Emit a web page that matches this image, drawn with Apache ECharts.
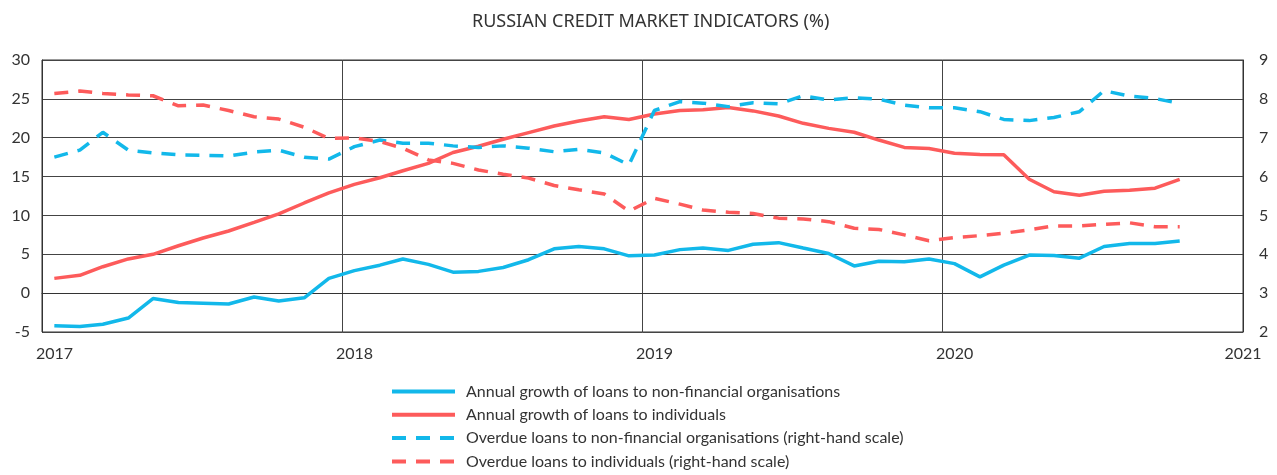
<!DOCTYPE html>
<html>
<head>
<meta charset="utf-8">
<script src="https://cdn.jsdelivr.net/npm/echarts@6/dist/echarts.min.js"></script>
<style>
  html, body { margin: 0; padding: 0; background: #fff; }
  #main { width: 1277px; height: 475px; }
</style>
</head>
<body>
<div id="main"></div>
<script>
// monthly observations, Jan 2017 .. Oct 2020
var months = [];
for (var y = 2017; y <= 2020; y++) {
    for (var m = 1; m <= 12; m++) {
        if (y == 2020 && m > 10) break;
        months.push(y + '-' + (m < 10 ? '0' + m : m));
    }
}

var growthCorp = [-4.2, -4.3, -4.0, -3.2, -0.7, -1.2, -1.3, -1.4, -0.5, -1.0, -0.6, 1.9,
                  2.9, 3.6, 4.4, 3.7, 2.7, 2.8, 3.3, 4.3, 5.7, 6.0, 5.7, 4.8,
                  4.9, 5.6, 5.8, 5.5, 6.3, 6.5, 5.8, 5.1, 3.5, 4.1, 4.05, 4.4,
                  3.8, 2.1, 3.6, 4.9, 4.85, 4.5, 6.0, 6.4, 6.4, 6.7];
var growthRetail = [1.9, 2.3, 3.4, 4.4, 5.0, 6.1, 7.1, 8.0, 9.1, 10.2, 11.6, 12.9,
                    14.0, 14.85, 15.75, 16.7, 18.1, 18.9, 19.8, 20.65, 21.5, 22.15, 22.7, 22.35,
                    23.05, 23.5, 23.6, 23.9, 23.45, 22.8, 21.85, 21.2, 20.7, 19.7, 18.75, 18.6,
                    18.0, 17.85, 17.8, 14.65, 13.05, 12.6, 13.1, 13.25, 13.5, 14.65];
var overdueCorp = [6.5, 6.68, 7.14, 6.68, 6.61, 6.56, 6.55, 6.53, 6.63, 6.68, 6.5, 6.45,
                   6.77, 6.94, 6.86, 6.86, 6.79, 6.75, 6.79, 6.73, 6.64, 6.7, 6.61, 6.3,
                   7.7, 7.93, 7.89, 7.8, 7.9, 7.87, 8.08, 7.97, 8.03, 7.99, 7.84, 7.77,
                   7.77, 7.67, 7.47, 7.44, 7.52, 7.67, 8.21, 8.07, 8.01, 7.88];
var overdueRetail = [8.14, 8.2, 8.14, 8.1, 8.08, 7.82, 7.84, 7.7, 7.54, 7.48, 7.27, 6.98,
                     7.0, 6.9, 6.73, 6.43, 6.34, 6.17, 6.06, 5.96, 5.77, 5.66, 5.55, 5.11,
                     5.44, 5.29, 5.14, 5.08, 5.05, 4.93, 4.91, 4.84, 4.67, 4.64, 4.5, 4.35,
                     4.43, 4.48, 4.54, 4.63, 4.73, 4.73, 4.77, 4.81, 4.71, 4.71];

var names = [
    'Annual growth of loans to non-financial organisations',
    'Annual growth of loans to individuals',
    'Overdue loans to non-financial organisations (right-hand scale)',
    'Overdue loans to individuals (right-hand scale)'
];
var blue = '#12b8ea';
var red = '#fd5b5b';
var font = 'Lato, "Noto Sans", sans-serif';

// values plotted in the middle of their month
function pairs(vals) {
    return vals.map(function(v, i) { return [months[i] + '-16', v]; });
}

function line(name, vals, color, dashed, axis) {
    return {
        name: name,
        type: 'line',
        yAxisIndex: axis,
        data: pairs(vals),
        showSymbol: false,
        symbol: 'none',
        animation: false,
        lineStyle: { color: color, width: 3.5, type: dashed ? [14, 10] : 'solid' },
        itemStyle: { color: color }
    };
}

var chart = echarts.init(document.getElementById('main'));
var year = 365 * 24 * 3600 * 1000;
var option = {
    backgroundColor: '#fff',
    title: {
        text: 'RUSSIAN CREDIT MARKET INDICATORS (%)',
        left: 467,
        top: 8,
        textStyle: { fontFamily: '"Liberation Sans Narrow", "Noto Sans", sans-serif', fontSize: 18, fontWeight: 'normal', color: '#333' }
    },
    grid: {
        left: 42, right: 34, top: 60, bottom: 143,
        show: true, borderColor: '#333', borderWidth: 1
    },
    legend: {
        orient: 'vertical',
        left: 390,
        top: 382,
        padding: 0,
        itemWidth: 63,
        itemHeight: 10,
        itemGap: 4.3,
        itemStyle: { opacity: 0 },
        lineStyle: { width: 4 },
        textStyle: { fontFamily: font, fontSize: 16, lineHeight: 19, color: '#333', padding: [0, 0, 0, 6] },
        data: names
    },
    xAxis: {
        type: 'time',
        min: '2017-01-01',
        max: '2021-01-01',
        minInterval: year,
        maxInterval: year * 1.01,
        axisLine: { show: true, lineStyle: { color: '#333' } },
        axisTick: { show: false },
        splitLine: { show: true, lineStyle: { color: '#444', width: 1 } },
        axisLabel: {
            color: '#333', fontFamily: font, fontSize: 16, margin: 14,
            showMinLabel: true, showMaxLabel: true,
            // year labels sit under the January point, the last one at the edge
            formatter: function(v) {
                var yr = new Date(v).getFullYear();
                return yr < 2021 ? '{jan|' + yr + '}' : String(yr);
            },
            rich: { jan: { padding: [0, 0, 0, 25], fontFamily: font, fontSize: 16, color: '#333' } }
        }
    },
    yAxis: [{
        type: 'value',
        min: -5, max: 30, interval: 5,
        axisLine: { show: true, lineStyle: { color: '#333' } },
        axisTick: { show: false },
        splitLine: { lineStyle: { color: '#444', width: 1 } },
        axisLabel: { color: '#333', fontFamily: font, fontSize: 16, margin: 12 }
    }, {
        type: 'value',
        min: 2, max: 9, interval: 1,
        axisLine: { show: true, lineStyle: { color: '#333' } },
        axisTick: { show: false },
        splitLine: { show: false },
        axisLabel: { color: '#333', fontFamily: font, fontSize: 16, margin: 16 }
    }],
    series: [
        line(names[0], growthCorp, blue, false, 0),
        line(names[1], growthRetail, red, false, 0),
        line(names[2], overdueCorp, blue, true, 1),
        line(names[3], overdueRetail, red, true, 1)
    ]
};
chart.setOption(option);
</script>
</body>
</html>
